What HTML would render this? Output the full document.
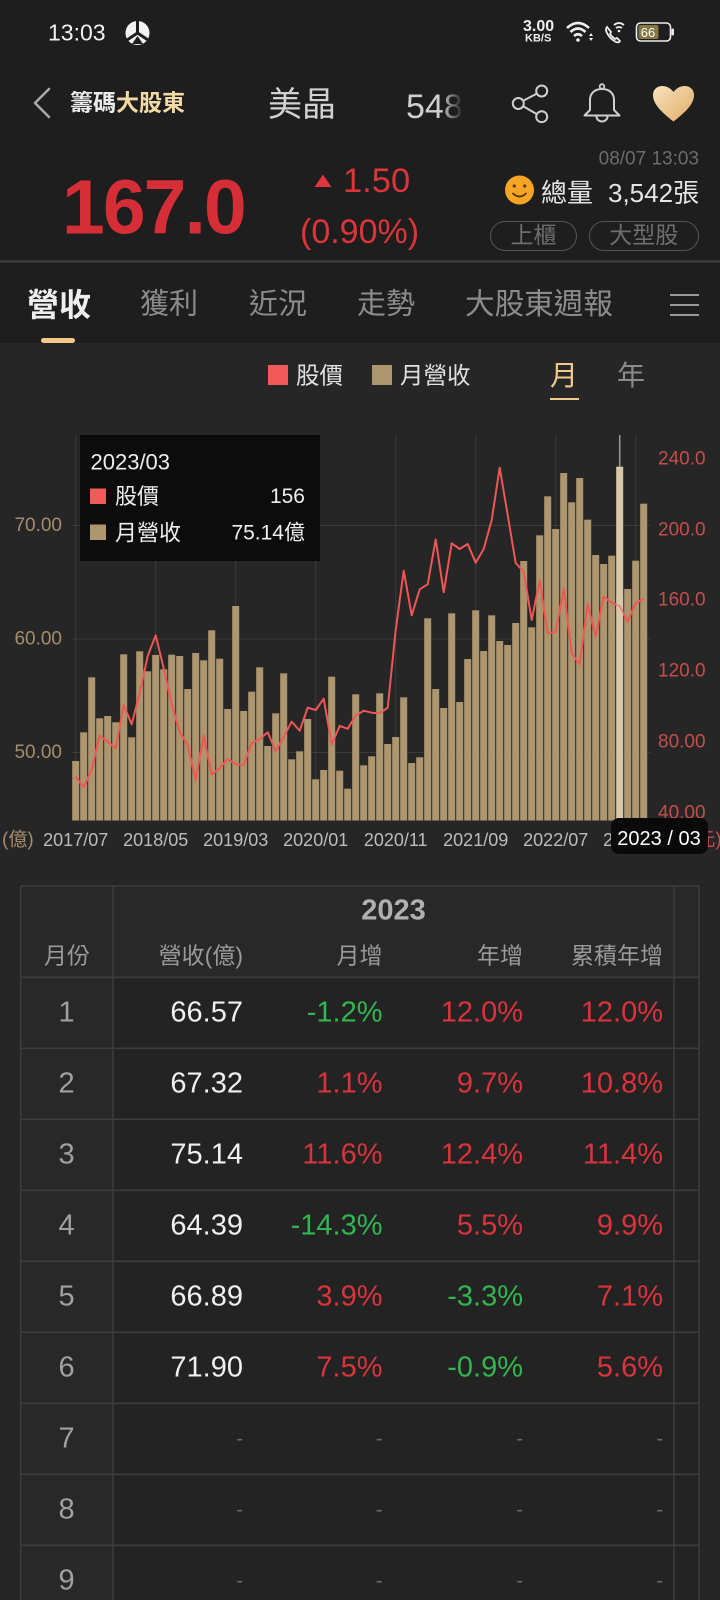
<!DOCTYPE html>
<html><head><meta charset="utf-8">
<style>
*{margin:0;padding:0;box-sizing:border-box}
body{width:720px;height:1600px;overflow:hidden;background:#262626;font-family:"Liberation Sans","Noto Sans CJK TC",sans-serif;position:relative}
.t{position:absolute;line-height:1;white-space:nowrap;transform:translateY(-50%)}
.r{text-align:right}
.blk{position:absolute}
.pill{position:absolute;height:30px;border:1.5px solid #555;border-radius:16px;color:#6e6e6e;font-size:23px;line-height:27px;text-align:center}
</style></head><body>

<div class="blk" style="left:0;top:0;width:720px;height:260px;background:#1e1e1e"></div>
<div class="blk" style="left:0;top:260px;width:720px;height:3px;background:#383838"></div>
<div class="blk" style="left:0;top:263px;width:720px;height:80px;background:#1e1e1e"></div>

<!-- status bar -->
<div class="t" style="left:48px;top:33px;font-size:23px;color:#f2f2f2">13:03</div>
<svg class="blk" style="left:0;top:0" width="720" height="260">
  <circle cx="137.5" cy="33" r="12" fill="#f2f2f2"/>
  <path d="M137.5,33 L137.5,21 M137.5,33 L127,40 M137.5,33 L148,40" stroke="#1e1e1e" stroke-width="3"/>
  <path d="M132,44 L137.5,36 L143,44 Z" fill="#1e1e1e"/>
  <!-- wifi -->
  <path d="M567,28 Q578,18 589,28" stroke="#eee" stroke-width="2.6" fill="none"/>
  <path d="M570.5,32 Q578,25 585.5,32" stroke="#eee" stroke-width="2.6" fill="none"/>
  <path d="M574,36 Q578,32.5 582,36" stroke="#eee" stroke-width="2.6" fill="none"/>
  <circle cx="578" cy="40" r="1.8" fill="#eee"/>
  <path d="M591,33 l-2,3 h4 z M591,41 l-2,-3 h4 z" fill="#eee"/>
  <!-- phone wifi -->
  <path d="M607,27 q-2,2 0,6 q3,6 9,9 q3,1 4,-1 l-3,-3 l-2,1 q-3,-2 -5,-5 l1,-2 z" stroke="#eee" stroke-width="1.8" fill="none"/>
  <path d="M614,25 Q619,21 624,25 M616,28 Q619,26 622,28" stroke="#eee" stroke-width="1.8" fill="none"/>
  <circle cx="619" cy="31" r="1.3" fill="#eee"/>
  <!-- battery -->
  <rect x="636.5" y="23" width="34" height="18" rx="4" fill="none" stroke="#eee" stroke-width="1.6"/>
  <rect x="638.5" y="25" width="20" height="14" rx="2" fill="#857845"/>
  <rect x="671.5" y="28.5" width="2.5" height="7" rx="1" fill="#eee"/>
  <text x="648" y="32.5" font-size="13" fill="#fff" text-anchor="middle" dominant-baseline="central" font-family="Liberation Sans, sans-serif">66</text>
  <!-- back -->
  <polyline points="49,89 35,103 49,117" stroke="#a8a8a8" stroke-width="2.6" fill="none" stroke-linecap="round" stroke-linejoin="round"/>
  <!-- share -->
  <circle cx="541.7" cy="91" r="5.5" stroke="#cfcfcf" stroke-width="2" fill="none"/>
  <circle cx="518.3" cy="103.5" r="5.5" stroke="#cfcfcf" stroke-width="2" fill="none"/>
  <circle cx="541.7" cy="116.7" r="5.5" stroke="#cfcfcf" stroke-width="2" fill="none"/>
  <path d="M523.2,100.8 L536.8,93.6 M523.2,106.2 L536.8,114.1" stroke="#cfcfcf" stroke-width="2"/>
  <!-- bell -->
  <circle cx="602" cy="86.5" r="2.3" stroke="#cfcfcf" stroke-width="1.8" fill="none"/>
  <path d="M590,110 L590,100 C590,93 595,89 602,89 C609,89 614,93 614,100 L614,110 L619.5,115.5 L584.5,115.5 Z" stroke="#cfcfcf" stroke-width="2" fill="none" stroke-linejoin="round"/>
  <path d="M596.5,116.5 A5.5,5 0 0 0 607.5,116.5" stroke="#cfcfcf" stroke-width="2" fill="none"/>
  <!-- heart -->
  <defs><linearGradient id="hg" x1="0" y1="0" x2="1" y2="1"><stop offset="0" stop-color="#f7e2bd"/><stop offset="1" stop-color="#e1ad66"/></linearGradient></defs>
  <path d="M673.5,121.5 C660,111 653,103.5 653,95 C653,89.5 657,86 662.5,86 C667,86 671,88.5 673.5,92 C676,88.5 680,86 684.5,86 C690,86 694,89.5 694,95 C694,103.5 687,111 673.5,121.5 Z" fill="url(#hg)"/>
  <!-- triangle -->
  <polygon points="314.5,187 323,174.5 331.5,187" fill="#e0353c"/>
  <!-- smile -->
  <circle cx="519.5" cy="190" r="14.5" fill="#f5a524"/>
  <circle cx="514.3" cy="186" r="1.6" fill="#5a3600"/>
  <circle cx="524.7" cy="186" r="1.6" fill="#5a3600"/>
  <path d="M512.5,193 Q519.5,200 526.5,193" stroke="#5a3600" stroke-width="1.8" fill="none"/>
</svg>
<div class="t" style="left:523px;top:27px;font-size:16px;font-weight:bold;color:#eee">3.00</div>
<div class="t" style="left:525px;top:38.5px;font-size:11px;font-weight:bold;color:#eee">KB/S</div>

<!-- header -->
<div class="t" style="left:70px;top:103px;font-size:23px;font-weight:bold;color:#ebebeb">籌碼<span style="color:#f2d9a6">大股東</span></div>
<div class="t" style="left:268px;top:105px;font-size:34px;color:#d2d2d2">美晶</div>
<div class="t" style="left:406px;top:107px;font-size:34px;color:#cfcfcf;-webkit-mask-image:linear-gradient(90deg,#000 62%,transparent 100%);mask-image:linear-gradient(90deg,#000 62%,transparent 100%)">548</div>

<!-- price -->
<div class="t r" style="right:21px;top:159px;font-size:19px;color:#6c6c6c">08/07 13:03</div>
<div class="t" style="left:62px;top:207.5px;font-size:77px;font-weight:bold;letter-spacing:-2px;color:#d62e36">167.0</div>
<div class="t" style="left:343px;top:180.5px;font-size:34.5px;color:#dd343a">1.50</div>
<div class="t" style="left:300px;top:231.5px;font-size:34px;color:#dd343a">(0.90%)</div>
<div class="t" style="left:541px;top:193px;font-size:26px;color:#e5e5e5">總量</div>
<div class="t" style="left:608px;top:193px;font-size:26px;color:#e5e5e5">3,542張</div>
<div class="pill" style="left:490px;top:221px;width:87px">上櫃</div>
<div class="pill" style="left:588.5px;top:221px;width:110.5px">大型股</div>

<!-- tabs -->
<div class="t" style="left:27px;top:305px;font-size:32px;font-weight:bold;color:#efefef">營收</div>
<div class="t" style="left:140px;top:305px;font-size:29px;color:#8c8c8c">獲利</div>
<div class="t" style="left:249px;top:305px;font-size:29px;color:#8c8c8c">近況</div>
<div class="t" style="left:357px;top:305px;font-size:29px;color:#8c8c8c">走勢</div>
<div class="t" style="left:465px;top:305px;font-size:29.6px;color:#8c8c8c">大股東週報</div>
<div class="blk" style="left:670px;top:294px;width:29px;height:2px;background:#999"></div>
<div class="blk" style="left:670px;top:304px;width:29px;height:2px;background:#999"></div>
<div class="blk" style="left:670px;top:314px;width:29px;height:2px;background:#999"></div>
<div class="blk" style="left:40.5px;top:338px;width:34px;height:5px;border-radius:3px;background:#f2c98a"></div>

<!-- legend -->
<div class="blk" style="left:268px;top:364.5px;width:20px;height:20px;background:#f25a5a"></div>
<div class="t" style="left:296px;top:375.5px;font-size:23.5px;color:#e0e0e0">股價</div>
<div class="blk" style="left:372px;top:364.5px;width:20px;height:20px;background:#ad956e"></div>
<div class="t" style="left:400px;top:375.5px;font-size:23.5px;color:#e0e0e0">月營收</div>
<div class="t" style="left:550px;top:375.5px;font-size:28px;color:#f1c98c">月</div>
<div class="blk" style="left:550px;top:398px;width:29px;height:2px;background:#f1c98c"></div>
<div class="t" style="left:617px;top:375.5px;font-size:28px;color:#8c8c8c">年</div>

<!-- chart -->
<svg class="blk" style="left:0;top:0" width="720" height="870" font-family="Liberation Sans, Noto Sans CJK TC, sans-serif">
  <g stroke="#3a3a3a" stroke-width="1">
    <line x1="75.7" y1="435" x2="75.7" y2="820.5"/><line x1="155.7" y1="435" x2="155.7" y2="820.5"/>
    <line x1="235.7" y1="435" x2="235.7" y2="820.5"/><line x1="315.7" y1="435" x2="315.7" y2="820.5"/>
    <line x1="395.7" y1="435" x2="395.7" y2="820.5"/><line x1="475.7" y1="435" x2="475.7" y2="820.5"/>
    <line x1="555.7" y1="435" x2="555.7" y2="820.5"/><line x1="635.7" y1="435" x2="635.7" y2="820.5"/>
    <line x1="72" y1="525.5" x2="650" y2="525.5"/><line x1="72" y1="639" x2="650" y2="639"/><line x1="72" y1="752.5" x2="650" y2="752.5"/>
  </g>
  <g fill="#ad956e">
<rect x="72.2" y="761" width="7" height="59.5"/><rect x="80.2" y="732.3" width="7" height="88.2"/><rect x="88.2" y="677.3" width="7" height="143.2"/><rect x="96.2" y="718.3" width="7" height="102.2"/><rect x="104.2" y="716" width="7" height="104.5"/><rect x="112.2" y="722.3" width="7" height="98.2"/><rect x="120.2" y="654.3" width="7" height="166.2"/><rect x="128.2" y="737.3" width="7" height="83.2"/><rect x="136.2" y="651.3" width="7" height="169.2"/><rect x="144.2" y="671.3" width="7" height="149.2"/><rect x="152.2" y="655" width="7" height="165.5"/><rect x="160.2" y="669.3" width="7" height="151.2"/><rect x="168.2" y="654.7" width="7" height="165.8"/><rect x="176.2" y="656" width="7" height="164.5"/><rect x="184.2" y="689" width="7" height="131.5"/><rect x="192.2" y="653" width="7" height="167.5"/><rect x="200.2" y="660.3" width="7" height="160.2"/><rect x="208.2" y="630.3" width="7" height="190.2"/><rect x="216.2" y="658.7" width="7" height="161.8"/><rect x="224.2" y="709" width="7" height="111.5"/><rect x="232.2" y="606" width="7" height="214.5"/><rect x="240.2" y="711" width="7" height="109.5"/><rect x="248.2" y="691.7" width="7" height="128.8"/><rect x="256.2" y="667.3" width="7" height="153.2"/><rect x="264.2" y="746" width="7" height="74.5"/><rect x="272.2" y="713.3" width="7" height="107.2"/><rect x="280.2" y="673.3" width="7" height="147.2"/><rect x="288.2" y="759.3" width="7" height="61.2"/><rect x="296.2" y="751.3" width="7" height="69.2"/><rect x="304.2" y="719" width="7" height="101.5"/><rect x="312.2" y="779.3" width="7" height="41.2"/><rect x="320.2" y="770" width="7" height="50.5"/><rect x="328.2" y="676.7" width="7" height="143.8"/><rect x="336.2" y="770.7" width="7" height="49.8"/><rect x="344.2" y="788.7" width="7" height="31.8"/><rect x="352.2" y="694.3" width="7" height="126.2"/><rect x="360.2" y="765.3" width="7" height="55.2"/><rect x="368.2" y="756.3" width="7" height="64.2"/><rect x="376.2" y="693.3" width="7" height="127.2"/><rect x="384.2" y="744" width="7" height="76.5"/><rect x="392.2" y="737" width="7" height="83.5"/><rect x="400.2" y="697.3" width="7" height="123.2"/><rect x="408.2" y="763" width="7" height="57.5"/><rect x="416.2" y="757.3" width="7" height="63.2"/><rect x="424.2" y="618.3" width="7" height="202.2"/><rect x="432.2" y="689" width="7" height="131.5"/><rect x="440.2" y="708" width="7" height="112.5"/><rect x="448.2" y="613.3" width="7" height="207.2"/><rect x="456.2" y="702" width="7" height="118.5"/><rect x="464.2" y="659" width="7" height="161.5"/><rect x="472.2" y="610.3" width="7" height="210.2"/><rect x="480.2" y="651" width="7" height="169.5"/><rect x="488.2" y="615.3" width="7" height="205.2"/><rect x="496.2" y="641" width="7" height="179.5"/><rect x="504.2" y="645" width="7" height="175.5"/><rect x="512.2" y="623" width="7" height="197.5"/><rect x="520.2" y="561" width="7" height="259.5"/><rect x="528.2" y="627.3" width="7" height="193.2"/><rect x="536.2" y="535.3" width="7" height="285.2"/><rect x="544.2" y="496.3" width="7" height="324.2"/><rect x="552.2" y="529" width="7" height="291.5"/><rect x="560.2" y="473" width="7" height="347.5"/><rect x="568.2" y="502.3" width="7" height="318.2"/><rect x="576.2" y="478" width="7" height="342.5"/><rect x="584.2" y="519.7" width="7" height="300.8"/><rect x="592.2" y="555" width="7" height="265.5"/><rect x="600.2" y="564" width="7" height="256.5"/><rect x="608.2" y="555.7" width="7" height="264.8"/><rect x="624.2" y="589" width="7" height="231.5"/><rect x="632.2" y="560.7" width="7" height="259.8"/><rect x="640.2" y="503.7" width="7" height="316.8"/>
  </g>
  <rect x="616.2" y="466.7" width="7" height="353.8" fill="#d9c8a8"/>
  <line x1="619.7" y1="435" x2="619.7" y2="466.7" stroke="#9a9a9a" stroke-width="1.5"/>
  <polyline fill="none" stroke="#f05656" stroke-width="2" stroke-linejoin="round" points="75.7,776.7 83.7,787.3 91.7,770 99.7,735.7 107.7,741.7 115.7,748.3 123.7,705 131.7,724.3 139.7,693.3 147.7,656 155.7,635.3 163.7,668.3 171.7,704 179.7,731.7 187.7,745 195.7,780 203.7,735.7 211.7,774.3 219.7,768.3 227.7,759 235.7,764 243.7,765 251.7,743.3 259.7,739 267.7,732.3 275.7,751 283.7,736.7 291.7,721.7 299.7,730.7 307.7,707.7 315.7,710 323.7,698.7 331.7,744.3 339.7,726 347.7,728.7 355.7,715.7 363.7,710.7 371.7,712.7 379.7,713.3 387.7,707.7 395.7,630 403.7,570.7 411.7,615.3 419.7,589.3 427.7,584.3 435.7,539.5 443.7,592.3 451.7,543.3 459.7,549 467.7,544 475.7,562.7 483.7,549 491.7,520 499.7,467.7 507.7,515 515.7,563 523.7,571.7 531.7,620 539.7,580.7 547.7,633.3 555.7,631.7 563.7,589 571.7,653.3 579.7,664 587.7,604.3 595.7,636.7 603.7,596.7 611.7,602.7 619.7,606 627.7,621.7 635.7,603.3 643.7,599"/>
  <rect x="616.2" y="595" width="7" height="20" fill="#d9c8a8" opacity="0.45"/>
  <!-- tooltip -->
  <rect x="80" y="435" width="240" height="126" fill="#0b0b0b" opacity="0.96"/>
  <text x="90.5" y="462" font-size="22" fill="#eeeeee" dominant-baseline="central">2023/03</text>
  <rect x="90" y="488.5" width="16" height="15.5" fill="#f25a5a"/>
  <text x="115" y="496.5" font-size="22" fill="#eeeeee" dominant-baseline="central">股價</text>
  <text x="305" y="496.5" font-size="21" fill="#eeeeee" text-anchor="end" dominant-baseline="central">156</text>
  <rect x="90" y="524.5" width="16" height="15.5" fill="#ad956e"/>
  <text x="115" y="533" font-size="22" fill="#eeeeee" dominant-baseline="central">月營收</text>
  <text x="305" y="533" font-size="21" fill="#eeeeee" text-anchor="end" dominant-baseline="central">75.14億</text>
  <!-- axes labels -->
  <g font-size="19" fill="#a48d6b" text-anchor="end" dominant-baseline="central">
    <text x="62" y="525.5">70.00</text><text x="62" y="639">60.00</text><text x="62" y="752.5">50.00</text>
  </g>
  <g font-size="19" fill="#c24f4c" dominant-baseline="central">
    <text x="658" y="459">240.0</text><text x="658" y="530">200.0</text><text x="658" y="600">160.0</text>
    <text x="658" y="671">120.0</text><text x="658" y="742">80.00</text><text x="658" y="813">40.00</text>
  </g>
  <g font-size="18" fill="#bcbcbc" text-anchor="middle" dominant-baseline="central">
    <text x="75.7" y="840">2017/07</text><text x="155.7" y="840">2018/05</text><text x="235.7" y="840">2019/03</text>
    <text x="315.7" y="840">2020/01</text><text x="395.7" y="840">2020/11</text><text x="475.7" y="840">2021/09</text>
    <text x="555.7" y="840">2022/07</text><text x="635.7" y="840">2023/05</text>
  </g>
  <text x="2" y="840" font-size="19" fill="#a48d6b" dominant-baseline="central">(億)</text>
  <text x="690" y="840" font-size="19" fill="#c24f4c" dominant-baseline="central">(元)</text>
  <rect x="611" y="818" width="97" height="36" rx="8" fill="#0a0a0a"/>
  <text x="659" y="839" font-size="20" fill="#ffffff" text-anchor="middle" dominant-baseline="central">2023 / 03</text>
</svg>

<!-- table -->
<div class="blk" style="left:20.7px;top:886px;width:678.3px;height:714px;background:#232323"></div>
<div class="blk" style="left:20.7px;top:886px;width:678.3px;height:91.3px;background:#282828"></div>
<div class="blk" style="left:20.7px;top:886px;width:92.3px;height:714px;background:#282828"></div>
<svg class="blk" style="left:0;top:880px" width="720" height="720">
  <g stroke="#3c3c3c" stroke-width="1.6" fill="none">
    <line x1="20.7" y1="6" x2="699" y2="6"/>
    <line x1="20.7" y1="6" x2="20.7" y2="720"/>
    <line x1="113" y1="6" x2="113" y2="720"/>
    <line x1="674" y1="6" x2="674" y2="720"/>
    <line x1="699" y1="6" x2="699" y2="720"/>
    <line x1="20.7" y1="97.3" x2="699" y2="97.3"/>
    <line x1="20.7" y1="168.3" x2="699" y2="168.3"/>
    <line x1="20.7" y1="239.3" x2="699" y2="239.3"/>
    <line x1="20.7" y1="310.3" x2="699" y2="310.3"/>
    <line x1="20.7" y1="381.3" x2="699" y2="381.3"/>
    <line x1="20.7" y1="452.3" x2="699" y2="452.3"/>
    <line x1="20.7" y1="523.3" x2="699" y2="523.3"/>
    <line x1="20.7" y1="594.3" x2="699" y2="594.3"/>
    <line x1="20.7" y1="665.3" x2="699" y2="665.3"/>
  </g>
</svg>
<div class="t" style="left:393.5px;top:911px;font-size:29px;font-weight:bold;color:#b0b0b0;transform:translate(-50%,-50%)">2023</div>
<div class="t" style="left:44px;top:956px;font-size:23px;color:#9a9a9a">月份</div>
<div class="t r" style="right:477px;top:956px;font-size:23px;color:#9a9a9a">營收(億)</div>
<div class="t r" style="right:337.5px;top:956px;font-size:23px;color:#9a9a9a">月增</div>
<div class="t r" style="right:197px;top:956px;font-size:23px;color:#9a9a9a">年增</div>
<div class="t r" style="right:57px;top:956px;font-size:23px;color:#9a9a9a">累積年增</div>

<div style="font-size:29px">
<div class="t" style="left:66.6px;top:1013px;color:#a0a0a0;transform:translate(-50%,-50%)">1</div>
<div class="t r" style="right:477px;top:1013px;color:#f0f0f0">66.57</div>
<div class="t r" style="right:337.5px;top:1013px;color:#33b54f">-1.2%</div>
<div class="t r" style="right:197px;top:1013px;color:#d9343c">12.0%</div>
<div class="t r" style="right:57px;top:1013px;color:#d9343c">12.0%</div>

<div class="t" style="left:66.6px;top:1084px;color:#a0a0a0;transform:translate(-50%,-50%)">2</div>
<div class="t r" style="right:477px;top:1084px;color:#f0f0f0">67.32</div>
<div class="t r" style="right:337.5px;top:1084px;color:#d9343c">1.1%</div>
<div class="t r" style="right:197px;top:1084px;color:#d9343c">9.7%</div>
<div class="t r" style="right:57px;top:1084px;color:#d9343c">10.8%</div>

<div class="t" style="left:66.6px;top:1155px;color:#a0a0a0;transform:translate(-50%,-50%)">3</div>
<div class="t r" style="right:477px;top:1155px;color:#f0f0f0">75.14</div>
<div class="t r" style="right:337.5px;top:1155px;color:#d9343c">11.6%</div>
<div class="t r" style="right:197px;top:1155px;color:#d9343c">12.4%</div>
<div class="t r" style="right:57px;top:1155px;color:#d9343c">11.4%</div>

<div class="t" style="left:66.6px;top:1226px;color:#a0a0a0;transform:translate(-50%,-50%)">4</div>
<div class="t r" style="right:477px;top:1226px;color:#f0f0f0">64.39</div>
<div class="t r" style="right:337.5px;top:1226px;color:#33b54f">-14.3%</div>
<div class="t r" style="right:197px;top:1226px;color:#d9343c">5.5%</div>
<div class="t r" style="right:57px;top:1226px;color:#d9343c">9.9%</div>

<div class="t" style="left:66.6px;top:1297px;color:#a0a0a0;transform:translate(-50%,-50%)">5</div>
<div class="t r" style="right:477px;top:1297px;color:#f0f0f0">66.89</div>
<div class="t r" style="right:337.5px;top:1297px;color:#d9343c">3.9%</div>
<div class="t r" style="right:197px;top:1297px;color:#33b54f">-3.3%</div>
<div class="t r" style="right:57px;top:1297px;color:#d9343c">7.1%</div>

<div class="t" style="left:66.6px;top:1368px;color:#a0a0a0;transform:translate(-50%,-50%)">6</div>
<div class="t r" style="right:477px;top:1368px;color:#f0f0f0">71.90</div>
<div class="t r" style="right:337.5px;top:1368px;color:#d9343c">7.5%</div>
<div class="t r" style="right:197px;top:1368px;color:#33b54f">-0.9%</div>
<div class="t r" style="right:57px;top:1368px;color:#d9343c">5.6%</div>

<div class="t" style="left:66.6px;top:1439px;color:#a0a0a0;transform:translate(-50%,-50%)">7</div>
<div class="t" style="left:66.6px;top:1510px;color:#a0a0a0;transform:translate(-50%,-50%)">8</div>
<div class="t" style="left:66.6px;top:1581px;color:#a0a0a0;transform:translate(-50%,-50%)">9</div>
</div>
<div style="font-size:20px;color:#6a6a6a">
<div class="t r" style="right:477px;top:1439px">-</div><div class="t r" style="right:337.5px;top:1439px">-</div><div class="t r" style="right:197px;top:1439px">-</div><div class="t r" style="right:57px;top:1439px">-</div>
<div class="t r" style="right:477px;top:1510px">-</div><div class="t r" style="right:337.5px;top:1510px">-</div><div class="t r" style="right:197px;top:1510px">-</div><div class="t r" style="right:57px;top:1510px">-</div>
<div class="t r" style="right:477px;top:1581px">-</div><div class="t r" style="right:337.5px;top:1581px">-</div><div class="t r" style="right:197px;top:1581px">-</div><div class="t r" style="right:57px;top:1581px">-</div>
</div>

</body></html>
